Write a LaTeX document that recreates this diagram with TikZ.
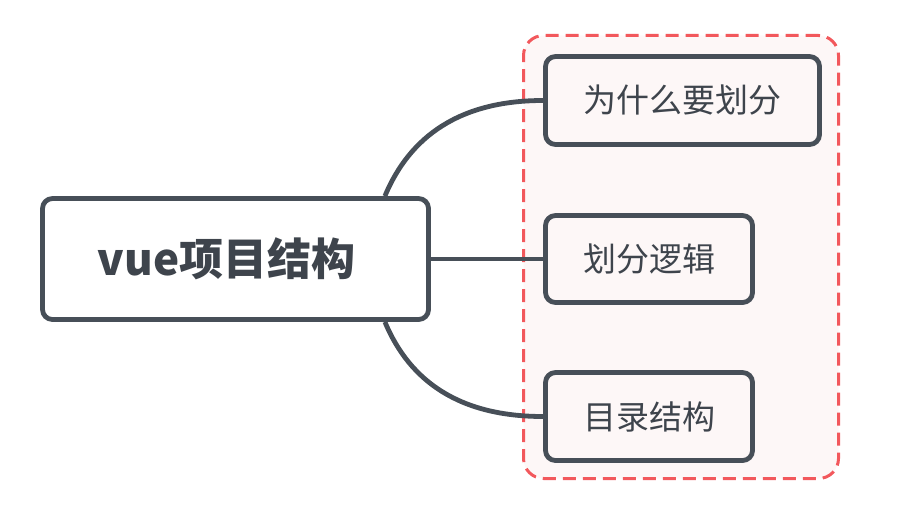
\documentclass[tikz,border=0pt]{standalone}
\usepackage{fontspec}
\setmainfont{Noto Sans CJK SC}
\usepackage{xcolor}
\usetikzlibrary{calc}
\definecolor{InkGray}{HTML}{474F58}
\definecolor{TextGray}{HTML}{3E444C}
\definecolor{DashRed}{HTML}{F2585C}
\definecolor{SoftPink}{HTML}{FDF7F7}
\tikzset{
  mainbox/.style={rectangle, rounded corners=10pt, draw=InkGray, fill=white, line width=4.8pt, text=TextGray, font=\fontsize{44}{50}\selectfont\bfseries, minimum width=386pt, minimum height=121pt},
  topicbox/.style={rectangle, rounded corners=10pt, draw=InkGray, fill=SoftPink, line width=4.8pt, text=TextGray, font=\fontsize{33}{38}\selectfont, minimum height=88pt},
  groupbox/.style={rectangle, rounded corners=20pt, draw=DashRed, fill=SoftPink, line width=3pt, dash pattern=on 13pt off 7pt},
  link/.style={draw=InkGray, line width=4.8pt}
}
\begin{document}
\begin{tikzpicture}[x=1pt, y=-1pt]
  \useasboundingbox (0,0) rectangle (917,511);
  \node[groupbox, minimum width=315pt, minimum height=443pt] (group) at (681,257) {};

  \node[mainbox] (main) at (235.5,259) {\hspace*{-18pt}vue项目结构};
  \node[topicbox, minimum width=274pt] (why) at (682.5,100.5) {为什么要划分};
  \node[topicbox, minimum width=207pt, minimum height=87pt] (logic) at (649,259) {划分逻辑};
  \node[topicbox, minimum width=207pt] (dirs) at (649,416.5) {目录结构};

  \draw[link] ([xshift=-46pt]main.north east) .. controls +(25,-60) and +(-83,0) .. (why.west);
  \draw[link] (main.east) -- (logic.west);
  \draw[link] ([xshift=-46pt]main.south east) .. controls +(25,60) and +(-83,0) .. (dirs.west);
\end{tikzpicture}
\end{document}
